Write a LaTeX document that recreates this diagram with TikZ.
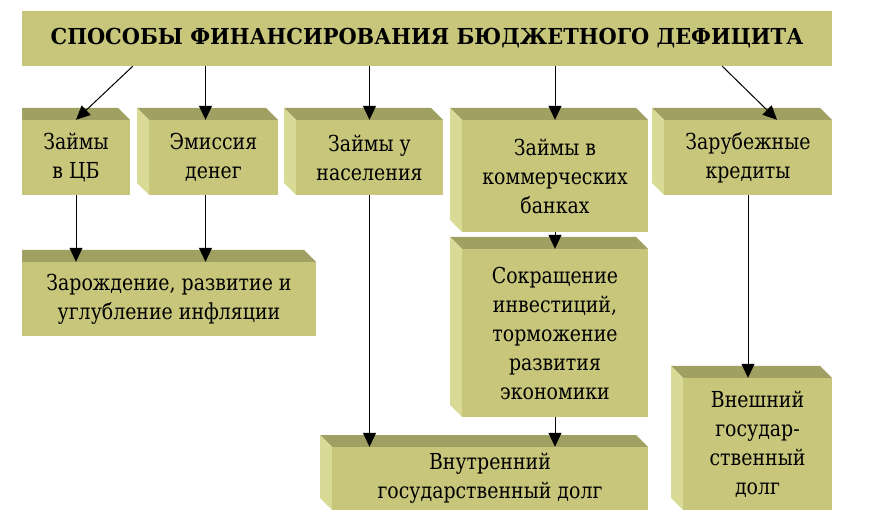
\documentclass[tikz,border=0pt]{standalone}
\usepackage{fontspec}
\setmainfont{DejaVu Serif}[FakeStretch=0.86]
\newfontfamily\headfont{DejaVu Serif}[FakeStretch=0.95]
\usetikzlibrary{arrows.meta}
\definecolor{faceol}{RGB}{199,198,123}
\definecolor{topol}{RGB}{160,160,98}
\definecolor{sideol}{RGB}{218,218,151}
\tikzset{
	box/.style={fill=faceol, inner sep=0pt, align=center, font=\fontsize{22}{29}\selectfont},
	titlebox/.style={fill=faceol, inner sep=0pt, font=\headfont\fontsize{22}{28}\selectfont\bfseries},
	topface/.style={fill=topol},
	sideface/.style={fill=sideol},
	arr/.style={line width=1pt, -{Triangle[length=14pt,width=13pt]}}
}
% name, left, top, right, bottom, side depth, text (front face)
\newcommand{\slab}[7]{%
	\fill[topface] (#2-#6,#3-12) -- (#4-12,#3-12) -- (#4,#3) -- (#2,#3) -- cycle;
	\fill[sideface] (#2-#6,#3-12) -- (#2,#3) -- (#2,#5) -- (#2-#6,#5-12) -- cycle;
	\node[box, minimum width={(#4-#2)*1pt}, minimum height={(#5-#3)*1pt}] (#1) at ({(#2+#4)/2},{(#3+#5)/2}) {#7};
}
\begin{document}
\begin{tikzpicture}[x=1pt,y=-1pt]
		\fill[white] (0,0) rectangle (870,526);
		\useasboundingbox (0,0) rectangle (870,526);
		\node[titlebox, minimum width=810pt, minimum height=55pt] (title) at (427,38.5) {СПОСОБЫ ФИНАНСИРОВАНИЯ БЮДЖЕТНОГО ДЕФИЦИТА};
		% first row
		\slab{cb}{22}{120}{130}{195}{0}{Займы\\в ЦБ}
		\slab{em}{149}{120}{278}{195}{12}{Эмиссия\\денег}
		\slab{nas}{296}{120}{443}{195}{12}{Займы у\\населения}
		\slab{kom}{462}{120}{648}{232}{12}{Займы в\\коммерческих\\банках}
		\slab{zar}{664}{120}{832}{195}{12}{Зарубежные\\кредиты}
		% consequences
		\slab{inf}{22}{262}{316}{336}{0}{Зарождение, развитие и\\углубление инфляции}
		\slab{sok}{462}{249}{648}{417}{12}{Сокращение\\инвестиций,\\торможение\\развития\\экономики}
		\slab{vnu}{332}{447}{648}{510}{12}{Внутренний\\государственный долг}
		\slab{vne}{683}{378}{832}{510}{12}{Внешний\\государ-\\ственный\\долг}
		\coordinate (emin) at ([xshift=-8pt]em.north);
		\coordinate (emout) at ([xshift=-8pt]em.south);
		% arrows
		\draw[arr] ([xshift=111pt]title.south west) -- (cb.north);
		\draw[arr] (title.south -| emin) -- (emin);
		\draw[arr] (title.south -| nas.north) -- (nas.north);
		\draw[arr] (title.south -| kom.north) -- (kom.north);
		\draw[arr] ([xshift=-110pt]title.south east) -- ([xshift=29pt]zar.north);
		\draw[arr] (cb.south) -- (cb.south |- inf.north);
		\draw[arr] (emout) -- (emout |- inf.north);
		\draw[arr] (nas.south) -- (nas.south |- vnu.north);
		\draw[arr] (kom.south) -- (sok.north);
		\draw[arr] (sok.south) -- (sok.south |- vnu.north);
		\draw[arr] (zar.south) -- (zar.south |- vne.north);
\end{tikzpicture}
\end{document}
